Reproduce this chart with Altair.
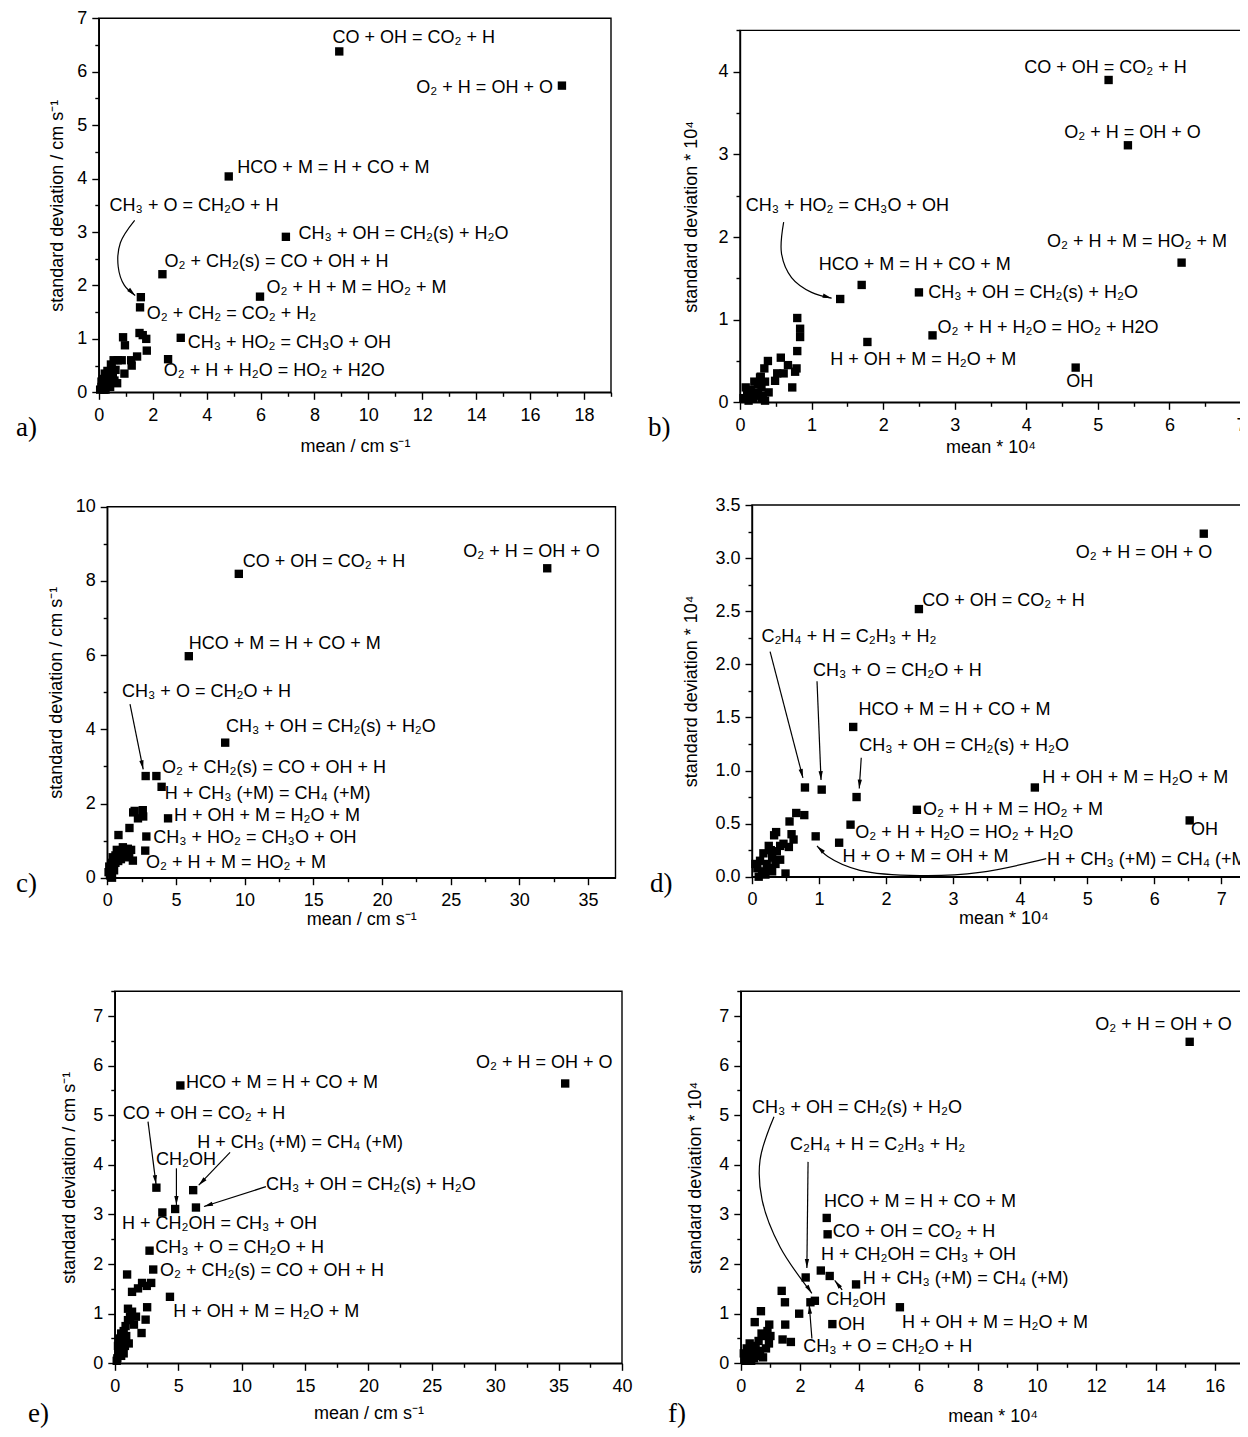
import math
import altair as alt
import pandas as pd

FONT = "Liberation Sans"
SERIF = "Liberation Serif"
W, H, M = 1232, 1421, 8

# ---------------- panel a ----------------
a_points = [(8.92, 6.38), (17.18, 5.74), (4.82, 4.04), (6.94, 2.91), (2.36, 2.21), (5.98, 1.79),
            (1.56, 1.78), (1.53, 1.59), (3.04, 1.02), (2.57, 0.62),
            (1.51, 1.11), (1.63, 1.07), (1.76, 1.00), (1.78, 0.78), (0.90, 1.03), (0.97, 0.88),
            (1.42, 0.67), (1.20, 0.60), (1.22, 0.50), (0.55, 0.60), (0.70, 0.60), (0.85, 0.60),
            (0.62, 0.42), (0.95, 0.35), (0.68, 0.17), (0.48, 0.45), (0.40, 0.36), (0.30, 0.30),
            (0.36, 0.20), (0.20, 0.15), (0.15, 0.25), (0.10, 0.10), (0.25, 0.05), (0.52, 0.30),
            (0.32, 0.40), (0.05, 0.05), (0.42, 0.10), (0.58, 0.22), (0.22, 0.35), (0.10, 0.20),
            (0.45, 0.52), (0.18, 0.05)]
a_labels = ["CO + OH = CO₂ + H", "O₂ + H = OH + O", "HCO + M = H + CO + M", "CH₃ + O = CH₂O + H",
            "CH₃ + OH = CH₂(s) + H₂O", "O₂ + CH₂(s) = CO + OH + H", "O₂ + H + M = HO₂ + M",
            "O₂ + CH₂ = CO₂ + H₂", "CH₃ + HO₂ = CH₃O + OH", "O₂ + H + H₂O = HO₂ + H2O"]
a_label_x = [8.67, 11.78, 5.14, 0.40, 7.41, 2.44, 6.22, 1.78, 3.30, 2.41]
a_label_y = [6.64, 5.69, 4.19, 3.48, 2.97, 2.44, 1.96, 1.47, 0.92, 0.40]
a_arrows = [[(1.33, 3.22), (0.80, 2.80), (0.72, 2.35), (0.95, 2.00), (1.35, 1.81)]]

# ---------------- panel b ----------------
b_points = [(5.15, 3.90), (5.42, 3.11), (6.17, 1.69), (1.40, 1.25), (1.70, 1.42), (2.50, 1.33),
            (2.69, 0.81), (1.78, 0.73), (4.69, 0.42),
            (0.80, 1.02), (0.84, 0.89), (0.84, 0.79), (0.80, 0.62), (0.79, 0.41), (0.77, 0.37),
            (0.73, 0.18), (0.67, 0.45), (0.57, 0.54), (0.61, 0.35), (0.52, 0.35), (0.49, 0.26),
            (0.39, 0.50), (0.34, 0.41), (0.29, 0.31), (0.35, 0.25), (0.30, 0.18), (0.25, 0.22),
            (0.20, 0.25), (0.15, 0.15), (0.10, 0.10), (0.05, 0.05), (0.20, 0.08), (0.30, 0.05),
            (0.35, 0.02), (0.25, 0.12), (0.12, 0.02), (0.40, 0.12), (0.08, 0.18), (0.18, 0.05),
            (0.28, 0.30), (0.32, 0.08)]
b_labels = ["CO + OH = CO₂ + H", "O₂ + H = OH + O", "CH₃ + HO₂ = CH₃O + OH", "O₂ + H + M = HO₂ + M",
            "HCO + M = H + CO + M", "CH₃ + OH = CH₂(s) + H₂O", "O₂ + H + H₂O = HO₂ + H2O",
            "H + OH + M = H₂O + M", "OH"]
b_label_x = [3.97, 4.53, 0.08, 4.29, 1.10, 2.63, 2.76, 1.26, 4.56]
b_label_y = [4.04, 3.26, 2.38, 1.94, 1.66, 1.32, 0.90, 0.51, 0.24]
b_arrows = [[(0.61, 2.18), (0.58, 1.80), (0.72, 1.51), (1.00, 1.33), (1.28, 1.26)]]

# ---------------- panel c ----------------
c_points = [(9.58, 8.19), (32.03, 8.34), (5.94, 5.97), (8.59, 3.64), (2.80, 2.74), (3.58, 2.74),
            (3.96, 2.45), (4.43, 1.60), (2.85, 1.11), (2.77, 0.73),
            (1.89, 1.76), (2.59, 1.82), (2.24, 1.60), (2.62, 1.65), (2.00, 1.80), (1.62, 1.34),
            (0.82, 1.15), (1.14, 0.82), (1.50, 0.78), (1.74, 0.75), (1.87, 0.46), (1.60, 0.55),
            (1.30, 0.65), (0.90, 0.70), (0.70, 0.75), (0.50, 0.50), (0.60, 0.40), (0.40, 0.30),
            (0.30, 0.20), (0.20, 0.10), (0.50, 0.20), (0.80, 0.45), (0.30, 0.40), (0.15, 0.30),
            (0.25, 0.05), (1.00, 0.50), (0.40, 0.55), (0.10, 0.15), (0.35, 0.00), (0.60, 0.60)]
c_labels = ["CO + OH = CO₂ + H", "O₂ + H = OH + O", "HCO + M = H + CO + M", "CH₃ + O = CH₂O + H",
            "CH₃ + OH = CH₂(s) + H₂O", "O₂ + CH₂(s) = CO + OH + H", "H + CH₃ (+M) = CH₄ (+M)",
            "H + OH + M = H₂O + M", "CH₃ + HO₂ = CH₃O + OH", "O₂ + H + M = HO₂ + M"]
c_label_x = [9.87, 25.92, 5.94, 1.08, 8.65, 3.99, 4.19, 4.86, 3.35, 2.82]
c_label_y = [8.52, 8.79, 6.30, 5.00, 4.07, 2.95, 2.26, 1.66, 1.06, 0.39]
c_arrows = [[(1.66, 4.68), (2.62, 2.92)]]

# ---------------- panel d ----------------
d_points = [(6.74, 3.23), (2.49, 2.52), (0.79, 0.84), (1.04, 0.82), (1.51, 1.41), (1.56, 0.75),
            (4.22, 0.84), (2.46, 0.63), (6.53, 0.53), (1.47, 0.49), (1.30, 0.32), (0.95, 0.38),
            (0.66, 0.60), (0.78, 0.58), (0.56, 0.52), (0.36, 0.42), (0.33, 0.39), (0.59, 0.40),
            (0.62, 0.35), (0.55, 0.28), (0.47, 0.31), (0.42, 0.29), (0.25, 0.29), (0.17, 0.22),
            (0.37, 0.24), (0.42, 0.16), (0.50, 0.03), (0.30, 0.18), (0.22, 0.12), (0.12, 0.15),
            (0.08, 0.08), (0.15, 0.05), (0.25, 0.08), (0.05, 0.12), (0.30, 0.05), (0.20, 0.02),
            (0.10, 0.00), (0.35, 0.12), (0.28, 0.25)]
d_labels = ["O₂ + H = OH + O", "CO + OH = CO₂ + H", "C₂H₄ + H = C₂H₃ + H₂", "CH₃ + O = CH₂O + H",
            "HCO + M = H + CO + M", "CH₃ + OH = CH₂(s) + H₂O", "H + OH + M = H₂O + M",
            "O₂ + H + M = HO₂ + M", "OH", "O₂ + H + H₂O = HO₂ + H₂O", "H + O + M = OH + M",
            "H + CH₃ (+M) = CH₄ (+M)"]
d_label_x = [4.83, 2.54, 0.14, 0.91, 1.59, 1.60, 4.33, 2.55, 6.55, 1.54, 1.35, 4.40]
d_label_y = [3.05, 2.60, 2.26, 1.94, 1.57, 1.23, 0.93, 0.63, 0.44, 0.41, 0.19, 0.16]
d_arrows = [[(0.27, 2.12), (0.76, 0.93)],
            [(0.97, 1.84), (1.03, 0.91)],
            [(1.63, 1.12), (1.60, 0.83)],
            [(4.39, 0.17), (3.40, 0.04), (2.51, 0.01), (1.61, 0.06), (1.13, 0.19), (0.97, 0.29)]]

# ---------------- panel e ----------------
e_points = [(35.52, 5.64), (5.17, 5.60), (3.28, 3.54), (4.76, 3.11), (6.18, 3.49), (6.40, 3.14),
            (3.75, 3.04), (2.74, 2.27), (3.03, 1.89), (4.35, 1.34),
            (0.97, 1.79), (1.36, 1.44), (1.83, 1.51), (2.15, 1.62), (2.52, 1.56), (2.87, 1.62),
            (2.55, 1.13), (2.43, 0.88), (2.11, 0.61), (1.04, 1.10), (1.36, 1.04), (1.67, 0.94),
            (1.51, 0.78), (1.20, 0.94), (1.04, 0.87), (1.10, 0.40), (0.90, 0.55), (0.70, 0.65),
            (0.50, 0.60), (0.80, 0.35), (0.60, 0.45), (0.40, 0.40), (0.30, 0.25), (0.50, 0.15),
            (0.20, 0.10), (0.70, 0.20), (0.35, 0.50), (0.25, 0.35), (0.85, 0.75), (0.15, 0.05)]
e_labels = ["O₂ + H = OH + O", "HCO + M = H + CO + M", "CO + OH = CO₂ + H", "H + CH₃ (+M) = CH₄ (+M)",
            "CH₂OH", "CH₃ + OH = CH₂(s) + H₂O", "H + CH₂OH = CH₃ + OH", "CH₃ + O = CH₂O + H",
            "O₂ + CH₂(s) = CO + OH + H", "H + OH + M = H₂O + M"]
e_label_x = [28.49, 5.62, 0.63, 6.50, 3.25, 11.92, 0.57, 3.19, 3.56, 4.61]
e_label_y = [6.06, 5.65, 5.03, 4.44, 4.10, 3.59, 2.81, 2.32, 1.87, 1.04]
e_arrows = [[(2.62, 4.87), (3.25, 3.61)],
            [(4.86, 3.93), (4.86, 3.19)],
            [(9.09, 4.25), (6.62, 3.59)],
            [(11.92, 3.56), (7.03, 3.16)]]

# ---------------- panel f ----------------
f_points = [(15.15, 6.48), (2.90, 2.93), (2.93, 2.60), (2.19, 1.73), (2.70, 1.87), (3.00, 1.76),
            (3.89, 1.59), (2.35, 1.23), (2.50, 1.26), (5.37, 1.13), (3.09, 0.79),
            (1.38, 1.46), (1.49, 1.23), (0.68, 1.05), (1.97, 1.00), (0.47, 0.83), (1.50, 0.78),
            (0.96, 0.78), (1.41, 0.48), (1.69, 0.43), (0.90, 0.65), (0.80, 0.55), (0.70, 0.60),
            (0.95, 0.40), (0.85, 0.30), (0.60, 0.45), (0.50, 0.35), (0.40, 0.25), (0.30, 0.40),
            (0.20, 0.30), (0.25, 0.15), (0.15, 0.05), (0.10, 0.20), (0.55, 0.15), (0.75, 0.12),
            (0.35, 0.05), (0.65, 0.25), (1.00, 0.55), (0.45, 0.10)]
f_labels = ["O₂ + H = OH + O", "CH₃ + OH = CH₂(s) + H₂O", "C₂H₄ + H = C₂H₃ + H₂", "HCO + M = H + CO + M",
            "CO + OH = CO₂ + H", "H + CH₂OH = CH₃ + OH", "H + CH₃ (+M) = CH₄ (+M)", "CH₂OH", "OH",
            "H + OH + M = H₂O + M", "CH₃ + O = CH₂O + H"]
f_label_x = [11.96, 0.38, 1.66, 2.81, 3.10, 2.71, 4.12, 2.88, 3.28, 5.44, 2.11]
f_label_y = [6.82, 5.14, 4.40, 3.26, 2.65, 2.18, 1.69, 1.28, 0.77, 0.82, 0.32]
f_arrows = [[(1.12, 4.97), (0.65, 4.10), (0.72, 3.29), (1.32, 2.35), (2.40, 1.41)],
            [(2.27, 4.06), (2.23, 1.92)],
            [(3.42, 1.48), (3.17, 1.67)],
            [(2.40, 0.50), (2.31, 1.18)]]

# ---------------- layout (pixel positions in the page) ----------------
CM = "mean / cm s⁻¹"
SD_CM = "standard deviation / cm s⁻¹"
MX = "mean * 10⁴"
SD_X = "standard deviation * 10⁴"

PANELS = [
    dict(cap="a)", pts=a_points, lab=a_labels, lx=a_label_x, ly=a_label_y, arr=a_arrows,
         xdom=[0, 19], ydom=[0, 7], xpx=[98.8, 611.0], ypx=[392.3, 18.3],
         xmaj=2, xmin=1, ymaj=1, ymin=0.5, xt="mean  / cm s⁻¹", yt=SD_CM, yfmt="~f",
         xtp=13, ytp=10, cpos=(16, 428)),
    dict(cap="b)", pts=b_points, lab=b_labels, lx=b_label_x, ly=b_label_y, arr=b_arrows,
         xdom=[0, 7], ydom=[0, 4.5], xpx=[740.0, 1241.0], ypx=[402.3, 30.4],
         xmaj=1, xmin=0.5, ymaj=1, ymin=0.5, xt=MX, yt=SD_X, yfmt="~f",
         xtp=4, ytp=17, cpos=(648, 428)),
    dict(cap="c)", pts=c_points, lab=c_labels, lx=c_label_x, ly=c_label_y, arr=c_arrows,
         xdom=[0, 37], ydom=[0, 10], xpx=[107.2, 615.5], ypx=[877.7, 506.7],
         xmaj=5, xmin=2.5, ymaj=2, ymin=1, xt=CM, yt=SD_CM, yfmt="~f",
         xtp=1, ytp=10, cpos=(16, 884)),
    dict(cap="d)", pts=d_points, lab=d_labels, lx=d_label_x, ly=d_label_y, arr=d_arrows,
         xdom=[0, 7.5], ydom=[0, 3.5], xpx=[752.0, 1254.7], ypx=[876.7, 505.0],
         xmaj=1, xmin=0.5, ymaj=0.5, ymin=0.25, xt=MX, yt=SD_X, yfmt=".1f",
         xtp=1, ytp=14, cpos=(650, 884)),
    dict(cap="e)", pts=e_points, lab=e_labels, lx=e_label_x, ly=e_label_y, arr=e_arrows,
         xdom=[0, 40], ydom=[0, 7.5], xpx=[114.8, 622.0], ypx=[1363.3, 991.2],
         xmaj=5, xmin=2.5, ymaj=1, ymin=0.5, xt=CM, yt=SD_CM, yfmt="~f",
         xtp=9, ytp=14, cpos=(28, 1414)),
    dict(cap="f)", pts=f_points, lab=f_labels, lx=f_label_x, ly=f_label_y, arr=f_arrows,
         xdom=[0, 17], ydom=[0, 7.5], xpx=[740.8, 1244.5], ypx=[1363.3, 991.2],
         xmaj=2, xmin=1, ymaj=1, ymin=0.5, xt=MX, yt=SD_X, yfmt="~f",
         xtp=12, ytp=14, cpos=(668, 1414)),
]

HEAD = "M0,0L0.45,1.9L-0.45,1.9Z"


def tick_values(dom, step):
    n = int(round((dom[1] - dom[0]) / step))
    return [round(dom[0] + i * step, 6) for i in range(n + 1)]


def major_test(step):
    return f"abs(datum.value/{step} - round(datum.value/{step})) < 1e-6"


def axis_common():
    return dict(labelFont=FONT, labelFontSize=18, labelColor="black", labelFlush=False,
                labelOverlap=False, titleFont=FONT, titleFontSize=18, titleFontWeight="normal",
                titleColor="black", domainColor="black", domainWidth=1.4, tickColor="black",
                tickWidth=1.4, grid=False)


def build_panel(P):
    xr = [P["xpx"][0] - M, P["xpx"][1] - M]
    yr = [P["ypx"][0] - M, P["ypx"][1] - M]
    mtx = major_test(P["xmaj"])
    mty = major_test(P["ymaj"])
    xaxis = alt.Axis(orient="bottom", offset=yr[0] - H, values=tick_values(P["xdom"], P["xmin"]),
                     labelExpr=f"{mtx} ? datum.label : ''", format="~f",
                     tickSize={"condition": {"test": mtx, "value": 7}, "value": 4},
                     labelPadding=7, title=P["xt"], titlePadding=P["xtp"], **axis_common())
    yaxis = alt.Axis(orient="left", offset=-xr[0], values=tick_values(P["ydom"], P["ymin"]),
                     labelExpr=f"{mty} ? datum.label : ''", format=P["yfmt"],
                     tickSize={"condition": {"test": mty, "value": 7}, "value": 4},
                     labelPadding=5, title=P["yt"], titlePadding=P["ytp"], **axis_common())
    xs = alt.Scale(domain=P["xdom"], range=xr, nice=False, zero=False)
    ys = alt.Scale(domain=P["ydom"], range=yr, nice=False, zero=False)

    def X(f):
        return alt.X(f, type="quantitative", scale=xs, axis=xaxis)

    def Y(f):
        return alt.Y(f, type="quantitative", scale=ys, axis=yaxis)

    sx = (xr[1] - xr[0]) / (P["xdom"][1] - P["xdom"][0])
    sy = (yr[0] - yr[1]) / (P["ydom"][1] - P["ydom"][0])

    frame_df = pd.DataFrame({"x0": [P["xdom"][0]], "x1": [P["xdom"][1]],
                             "y0": [P["ydom"][0]], "y1": [P["ydom"][1]]})
    frame = alt.Chart(frame_df).mark_rect(fill="white", fillOpacity=0, stroke="black",
                                          strokeWidth=1.4).encode(
        x=X("x0"), x2="x1", y=Y("y0"), y2="y1")

    pts_df = pd.DataFrame({"mean": [p[0] for p in P["pts"]], "sd": [p[1] for p in P["pts"]]})
    points = alt.Chart(pts_df).mark_square(size=70, color="black", opacity=1).encode(
        x=X("mean"), y=Y("sd"))

    lab_df = pd.DataFrame({"t": P["lab"], "lx": P["lx"], "ly": P["ly"]})
    labels = alt.Chart(lab_df).mark_text(align="left", baseline="middle", font=FONT,
                                         fontSize=18, color="black").encode(
        x=X("lx"), y=Y("ly"), text="t:N")

    rows, heads = [], []
    for k, path in enumerate(P["arr"]):
        for i, (ax, ay) in enumerate(path):
            rows.append({"aid": k, "i": i, "ax": ax, "ay": ay})
        (px, py), (ex, ey) = path[-2], path[-1]
        dx = (ex - px) * sx
        dy = -(ey - py) * sy
        ang = math.degrees(math.atan2(dx, -dy)) % 360
        heads.append({"hx": ex, "hy": ey, "ang": ang})
    arr_df = pd.DataFrame(rows)
    head_df = pd.DataFrame(heads)
    lines = alt.Chart(arr_df).mark_line(color="black", strokeWidth=1.2,
                                        interpolate="catmull-rom").encode(
        x=X("ax"), y=Y("ay"), detail="aid:N", order="i:Q")
    arrowheads = alt.Chart(head_df).mark_point(shape=HEAD, filled=True, size=90, color="black",
                                               opacity=1).encode(
        x=X("hx"), y=Y("hy"), angle=alt.Angle("ang:Q", scale=None))

    cap = alt.Chart(pd.DataFrame({"c": [P["cap"]]})).mark_text(
        align="left", baseline="middle", font=SERIF, fontSize=27, color="black").encode(
        x=alt.value(P["cpos"][0] - M), y=alt.value(P["cpos"][1] - M), text="c:N")

    return alt.layer(frame, lines, arrowheads, points, labels, cap)


chart = alt.layer(*[build_panel(P) for P in PANELS]).resolve_scale(
    x="independent", y="independent"
).properties(
    width=W, height=H, padding=0, background="white",
    autosize=alt.AutoSizeParams(type="none"),
).configure_view(stroke=None)

chart.save("out.html", embed_options={"renderer": "svg", "actions": False})
